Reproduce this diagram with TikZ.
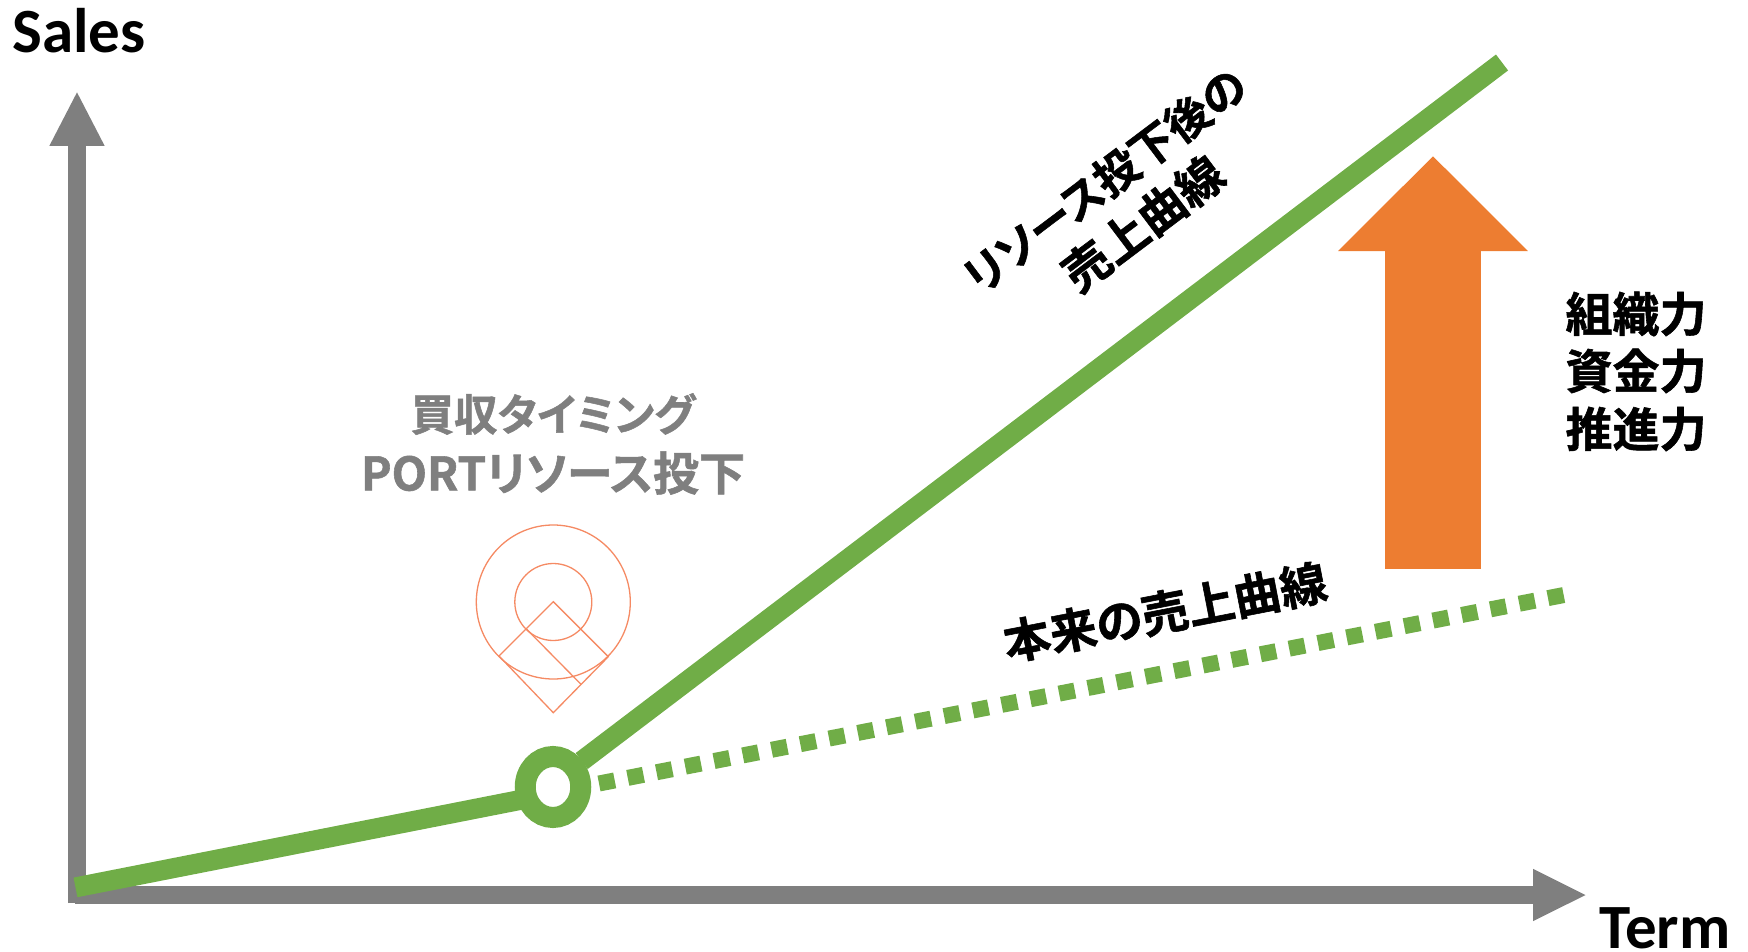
\documentclass[tikz,border=0pt]{standalone}
\usepackage{fontspec}
\usetikzlibrary{arrows.meta,shapes.geometric}
\setmainfont{Carlito}
\newfontfamily\jp[FakeBold=1.2,RawFeature=+palt]{Noto Sans CJK JP Bold}
\definecolor{axisgray}{HTML}{7F7F7F}
\definecolor{curvegreen}{HTML}{70AD47}
\definecolor{boost}{HTML}{ED7D31}
\definecolor{pinline}{HTML}{F58A63}
\tikzset{
  axisline/.style={draw=axisgray,line width=18pt},
  curve/.style={draw=curvegreen,line width=20pt},
  dotcurve/.style={draw=curvegreen,line width=16pt,dash pattern=on 16pt off 13.3pt},
  pin/.style={draw=pinline,line width=1.3pt},
  latinlabel/.style={font=\fontsize{63}{63}\selectfont\bfseries,text=black,inner sep=0pt},
  jplabel/.style={font=\jp\fontsize{47}{47}\selectfont,text=black,inner sep=0pt},
  slantlabel/.style={font=\jp\fontsize{44.5}{44.5}\selectfont,text=black,inner sep=0pt},
  graylabel/.style={font=\jp\fontsize{46}{46}\selectfont,text=axisgray,inner sep=0pt},
}
\begin{document}
\begin{tikzpicture}[x=1pt,y=-1pt]
\useasboundingbox (0,0) rectangle (1748,952);
\coordinate (origin) at (77,903);
\coordinate (ytip) at (77,91);
\coordinate (xstart) at (75,895);
\coordinate (xtip) at (1587,895);
\draw[axisline,-{Triangle[length=55pt,width=51pt]}] (origin) -- (ytip);
\draw[axisline,-{Triangle[length=54pt,width=48pt]}] (xstart) -- (xtip);
% pin icon
\coordinate (pinc) at (553.3,602);
\node[circle,pin,minimum size=154pt,inner sep=0pt] (pinouter) at (pinc) {};
\node[circle,pin,minimum size=77pt,inner sep=0pt] (pininner) at (pinc) {};
\coordinate (dtop) at (553.3,601.7);
\coordinate (dleft) at (499,656);
\coordinate (dbottom) at (553.3,712.7);
\coordinate (dright) at (608.3,656.7);
\coordinate (da) at (526.7,629.3);
\coordinate (db) at (581,684.3);
\draw[pin,line join=miter] (dtop) -- (dleft) -- (dbottom) -- (dright) -- cycle;
\draw[pin] (da) -- (db);
% curves
\coordinate (cstart) at (75.5,887.4);
\coordinate (cjoin) at (525,799);
\coordinate (ujoin) at (581.7,761);
\coordinate (cend) at (1502,62.5);
\coordinate (dstart) at (599,783.5);
\coordinate (dend) at (1569,594);
\draw[curve] (cstart) -- (cjoin);
\draw[curve] (ujoin) -- (cend);
\node[ellipse,draw=curvegreen,line width=21pt,fill=white,minimum width=55.5pt,minimum height=61pt,inner sep=0pt] (ring) at (553,787) {};
\draw[dotcurve] (dstart) -- (dend);
% boost arrow
\coordinate (bbase) at (1433,569);
\coordinate (btip) at (1433,156);
\draw[draw=boost,line width=96pt,-{Triangle[length=95pt,width=184pt]}] (bbase) -- (btip);
% labels
\node[latinlabel] (sales) at (79,31) {Sales};
\node[latinlabel] (term) at (1665,928) {Term};
\node[graylabel,font=\jp\fontsize{43.4}{43.4}\selectfont] (l1) at (553,414) {買収タイミング};
\node[graylabel] (l2) at (553,473) {PORTリソース投下};
\node[jplabel] (r1) at (1636,314) {組織力};
\node[jplabel] (r2) at (1636,371) {資金力};
\node[jplabel] (r3) at (1636,429) {推進力};
\node[slantlabel,rotate=37] (c1) at (1105,180.5) {リソース投下後の};
\node[jplabel,rotate=37] (c2) at (1143,223.5) {売上曲線};
\node[jplabel,rotate=11] (c3) at (1165,612) {本来の売上曲線};
\end{tikzpicture}
\end{document}
